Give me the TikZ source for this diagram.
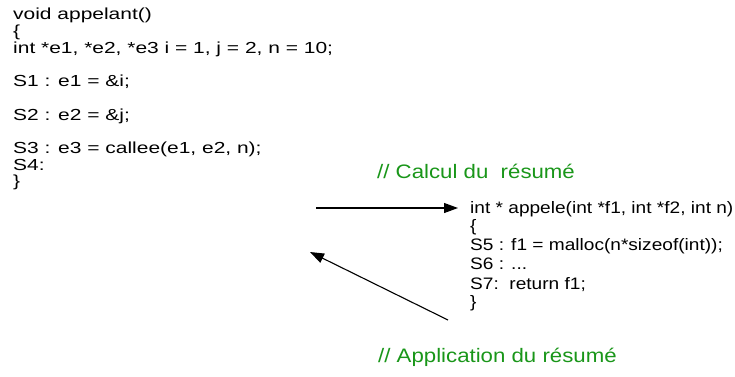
\documentclass[tikz,border=0pt]{standalone}
\usepackage{fontspec}
\setmainfont{Liberation Sans}
\newfontfamily\callerfont[FakeStretch=1.31]{Liberation Sans}
\newfontfamily\calleefont[FakeStretch=1.15]{Liberation Sans}
\newfontfamily\commentfont[FakeStretch=1.14]{Liberation Sans}
\usetikzlibrary{arrows.meta}
\definecolor{commentgreen}{RGB}{25,150,25}
\begin{document}
\begin{tikzpicture}[x=1pt, y=-1pt,
  code/.style={anchor=base west, inner sep=0pt, font=\callerfont\fontsize{16}{16}\selectfont},
  callee/.style={anchor=base west, inner sep=0pt, font=\calleefont\fontsize{16.6}{16.6}\selectfont},
  comment/.style={anchor=base west, inner sep=0pt, text=commentgreen, font=\commentfont\fontsize{19.5}{19.5}\selectfont},
  flow/.style={line width=1.1pt, -{Triangle[length=14pt,width=10pt]}}]
\useasboundingbox (0,0) rectangle (735,376);
% caller
\node[code] (c1) at (13,19)  {void appelant()};
\node[code] (c2) at (13,36)  {\{};
\node[code] (c3) at (13,53)  {int *e1, *e2, *e3 i = 1, j = 2, n = 10;};
\node[code] (c4) at (13,86)  {S1 : e1 = \&i;};
\node[code] (c5) at (13,120) {S2 : e2 = \&j;};
\node[code] (c6) at (13,153) {S3 : e3 = callee(e1, e2, n);};
\node[code] (c7) at (13,170) {S4:};
\node[code] (c8) at (13,186) {\}};
% callee
\node[callee] (d1) at (470,213) {int * appele(int *f1, int *f2, int n)};
\node[callee] (d2) at (470,231) {\{};
\node[callee] (d3) at (470,250) {S5 : f1 = malloc(n*sizeof(int));};
\node[callee] (d4) at (470,269) {S6 : ...};
\node[callee] (d5) at (470,289) {S7:\ \ return f1;};
\node[callee] (d6) at (470,307) {\}};
% comments
\node[comment] (k1) at (377,178) {// Calcul du\ \ résumé};
\node[comment] (k2) at (378,362) {// Application du résumé};
% call and return
\coordinate (callstart) at (316,208);
\coordinate (callend) at (458,208);
\coordinate (retstart) at (448,320);
\coordinate (retend) at (310,252);
\draw[flow] (callstart) -- (callend);
\draw[flow] (retstart) -- (retend);
\end{tikzpicture}
\end{document}
